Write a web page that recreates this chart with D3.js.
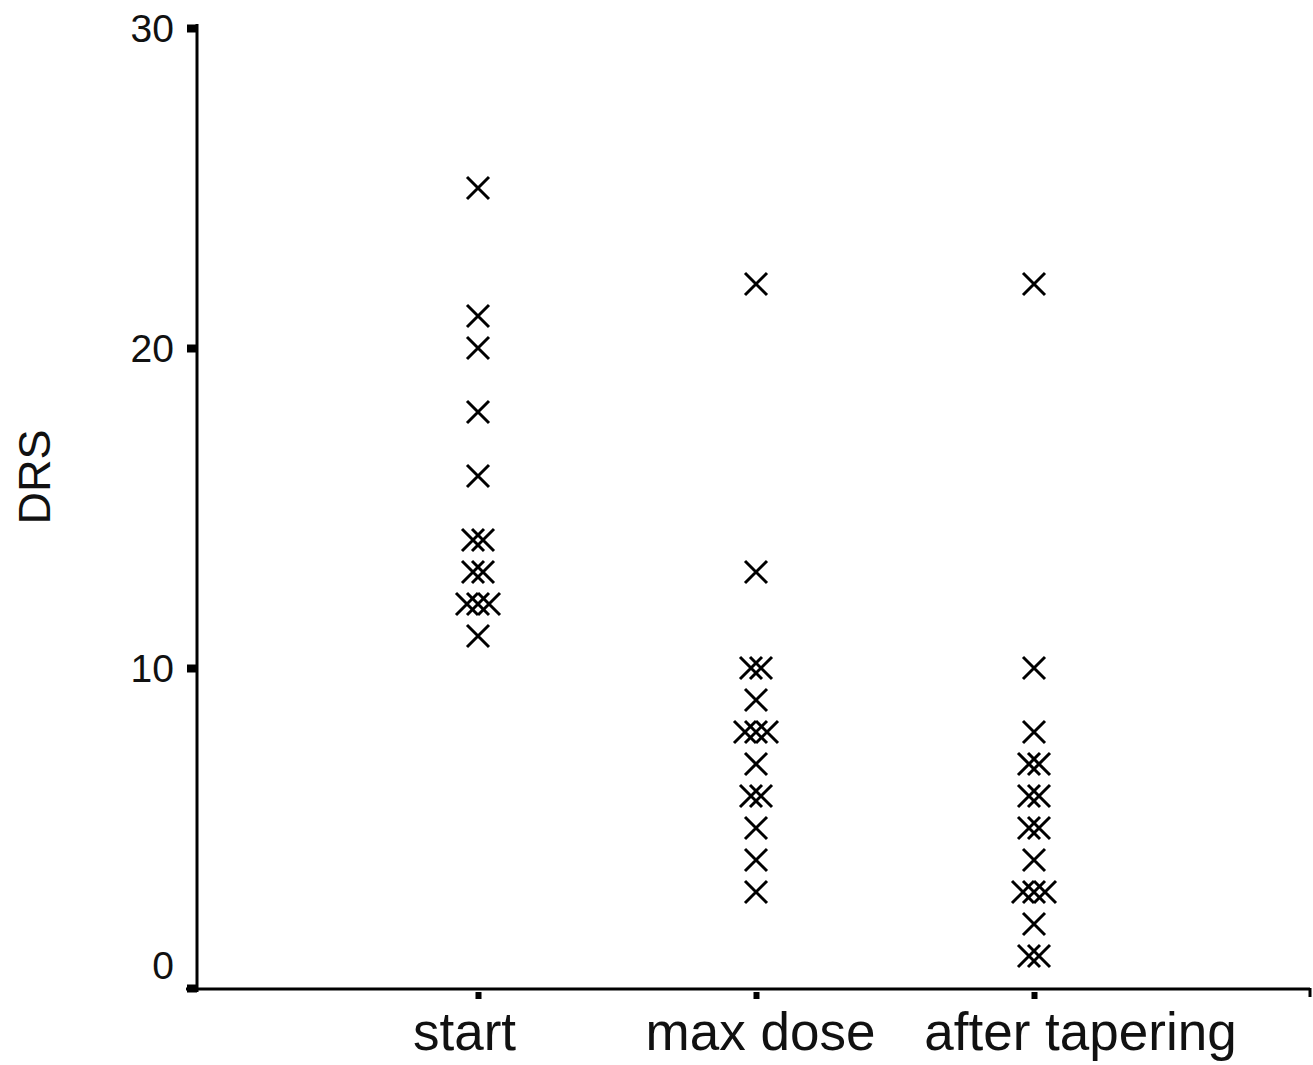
<!DOCTYPE html>
<html>
<head>
<meta charset="utf-8">
<script src="https://cdn.jsdelivr.net/npm/d3@7"></script>
<style>
  body { margin: 0; background: #fff; }
  text { font-family: "Liberation Sans", Arial, sans-serif; fill: #111; }
</style>
</head>
<body>
<div id="chart"></div>
<script>
// data
const categories = ["start", "max dose", "after tapering"];
const startValues = [25, 21, 20, 18, 16, 14, 14, 13, 13, 12, 12, 12, 11];
const maxDoseValues = [22, 13, 10, 10, 9, 8, 8, 8, 7, 6, 6, 5, 4, 3];
const afterTaperingValues = [22, 10, 8, 7, 7, 6, 6, 5, 5, 4, 3, 3, 3, 2, 1, 1];
const yTicks = [0, 10, 20, 30];

const W = 1313, H = 1065;
// label nudges so the category text sits like the original
const labelShift = { "start": -14, "max dose": 4, "after tapering": 46 };

const svg = d3.select("#chart").append("svg")
    .attr("width", W)
    .attr("height", H);

const x = d3.scalePoint()
    .domain(categories)
    .range([200, 1312])
    .padding(1);

const y = d3.scaleLinear()
    .domain([0, 30])
    .range([988, 28]);

// flatten + small horizontal spread for tied values (like the original)
const series = [startValues, maxDoseValues, afterTaperingValues];
const points = [];
series.forEach((vals, i) => {
    const counts = d3.rollup(vals, v => v.length, d => d);
    const seen = new Map();
    vals.forEach(v => {
        const n = counts.get(v);
        const k = seen.get(v) || 0;
        seen.set(v, k + 1);
        const spread = n === 1 ? 0 : (n === 2 ? 10 : 22);
        const off = n === 1 ? 0 : -spread / 2 + k * spread / (n - 1);
        points.push({ cat: categories[i], value: v, off });
    });
});

// axes
const yAxis = svg.append("g")
    .attr("transform", `translate(197,0)`)
    .call(d3.axisLeft(y).tickValues(yTicks).tickSize(10).tickPadding(13));
yAxis.select(".domain").remove();
yAxis.selectAll(".tick line").attr("stroke", "#000").attr("stroke-width", 8);
yAxis.selectAll(".tick text")
    .style("font-size", "39px")
    .attr("fill", "#444")
    .attr("dy", d => d === 0 ? "-0.25em" : "0.35em");

svg.append("line")
    .attr("x1", 197).attr("x2", 197)
    .attr("y1", 24).attr("y2", 992)
    .attr("stroke", "#000").attr("stroke-width", 3);

const xAxis = svg.append("g")
    .attr("transform", `translate(0,988)`)
    .call(d3.axisBottom(x).tickSize(0).tickPadding(24));
xAxis.select(".domain").remove();
xAxis.selectAll(".tick text")
    .style("font-size", "53px")
    .attr("dx", d => labelShift[d])
    .attr("fill", "#000");

xAxis.selectAll(".tick").append("rect")
    .attr("x", -3).attr("y", 4)
    .attr("width", 6).attr("height", 7)
    .attr("fill", "#000");

svg.append("line")
    .attr("x1", 186).attr("x2", 1310)
    .attr("y1", 989).attr("y2", 989)
    .attr("stroke", "#000").attr("stroke-width", 3);
svg.append("line")
    .attr("x1", 1310).attr("x2", 1310)
    .attr("y1", 988).attr("y2", 997)
    .attr("stroke", "#000").attr("stroke-width", 3);

// y label
svg.append("text")
    .attr("transform", "translate(50,477) rotate(-90)")
    .attr("text-anchor", "middle")
    .style("font-size", "45px")
    .attr("fill", "#000")
    .text("DRS");

// crosses
const s = 11;
svg.append("g").selectAll("path")
    .data(points)
    .enter()
    .append("path")
    .attr("transform", d => `translate(${x(d.cat) + d.off},${y(d.value)})`)
    .attr("d", `M${-s},${-s}L${s},${s}M${-s},${s}L${s},${-s}`)
    .attr("stroke", "#000")
    .attr("stroke-width", 3)
    .attr("fill", "none");
</script>
</body>
</html>
